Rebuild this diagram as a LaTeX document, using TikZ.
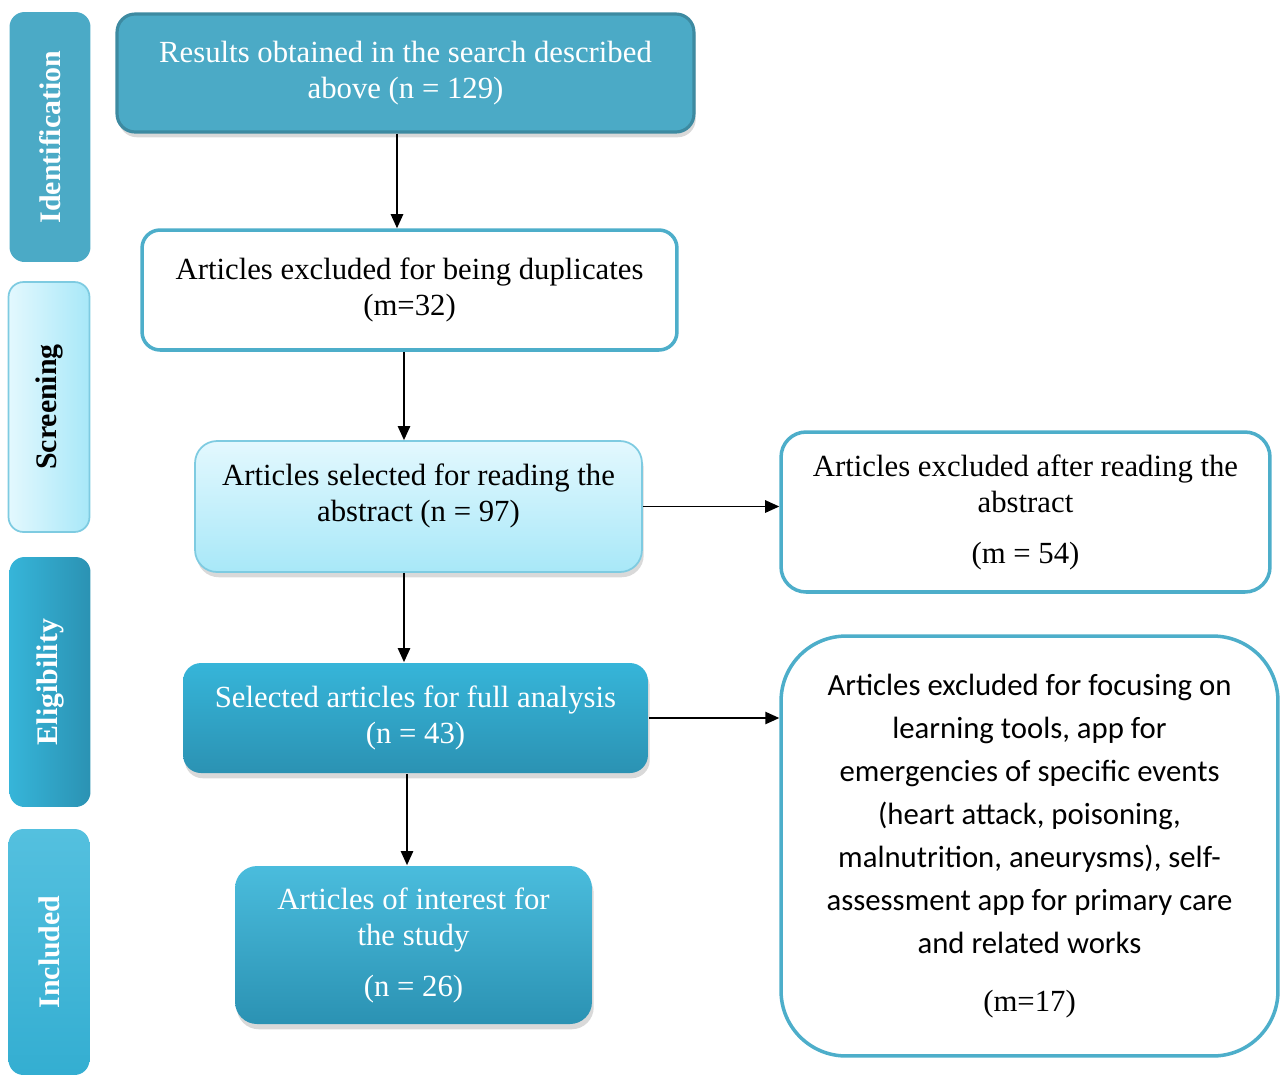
\documentclass[tikz,border=0pt]{standalone}
\usepackage{fontspec}
\setmainfont{Liberation Serif}
\newfontfamily\calfont{Carlito}
\usetikzlibrary{arrows.meta, shadows, positioning}
\definecolor{tealA}{HTML}{4BAAC6}
\definecolor{tealDark}{HTML}{3D8AA1}
\definecolor{tealLine}{HTML}{4DAECA}
\definecolor{cyanTop}{HTML}{36B5D9}
\definecolor{cyanBot}{HTML}{2B92B3}
\definecolor{paleTop}{HTML}{E3F8FE}
\definecolor{paleBot}{HTML}{A8E8F8}
\definecolor{paleLine}{HTML}{7ECBE1}

\begin{document}
\begin{tikzpicture}[x=0.02cm, y=-0.02cm, ->, >={Triangle[length=8pt,width=7pt]}, line width=1pt]
\tikzset{
  box/.style={rounded corners=0.36cm, align=center, inner sep=0pt, font=\fontsize{17.5}{20.5}\selectfont},
  shade/.style={drop shadow={opacity=0.3, shadow xshift=1pt, shadow yshift=-3pt}},
  darkbox/.style={box, shade, text=white, top color=cyanTop, bottom color=cyanBot, draw=none},
  whitebox/.style={box, fill=white, draw=tealLine, line width=2pt},
  stage/.style={rotate=90, rounded corners=0.3cm, minimum width=5cm, minimum height=1.62cm, inner sep=0pt, font=\fontsize{17}{20}\selectfont\bfseries}
}
\useasboundingbox (0,0) rectangle (1280,1076);

\node[stage, fill=tealA, text=white] (ident) at (50,137) {Identification};
\node[stage, draw=paleLine, line width=1pt, left color=paleTop, right color=paleBot, text=black] (screen) at (49,407) {Screening};
\node[stage, left color=cyanTop, right color=cyanBot, text=white] (elig) at (50,682) {Eligibility};
\node[stage, minimum width=4.92cm, top color=cyanTop!85!white, bottom color=cyanTop!80!cyanBot, text=white] (incl) at (49,952) {Included};

\node[box, shade, fill=tealA, draw=tealDark, line width=1.8pt, text=white, minimum width=11.54cm, minimum height=2.36cm] (b1) at (405.5,73) {Results obtained in the search described\\above (n = 129)};
\node[whitebox, minimum width=10.7cm, minimum height=2.4cm] (b2) at (409.5,290) {Articles excluded for being duplicates\\(m=32)};
\node[box, shade, draw=paleLine, line width=1pt, top color=paleTop, bottom color=paleBot, minimum width=8.94cm, minimum height=2.62cm, rounded corners=0.44cm] (b3) at (418.5,506.5) {Articles selected for reading the\\abstract (n = 97)\\[-0.18cm]};
\node[darkbox, minimum width=9.3cm, minimum height=2.2cm] (b4) at (415.5,718) {Selected articles for full analysis\\(n = 43)};
\node[darkbox, top color=cyanTop!90!white, minimum width=7.14cm, minimum height=3.16cm, rounded corners=0.44cm] (b5) at (413.5,945) {Articles of interest for\\the study\\[0.3cm](n = 26)};
\node[whitebox, minimum width=9.78cm, minimum height=3.2cm, rounded corners=0.5cm] (b6) at (1025.5,512) {Articles excluded after reading the\\abstract\\[0.3cm](m = 54)};
\node[whitebox, minimum width=9.94cm, minimum height=8.4cm, rounded corners=1.3cm, font=\calfont\fontsize{17.5}{24.5}\selectfont] (b7) at (1029.5,846) {Articles excluded for focusing on\\learning tools, app for\\emergencies of specific events\\(heart attack, poisoning,\\malnutrition, aneurysms), self-\\assessment app for primary care\\and related works\\[0.3cm]\rmfamily (m=17)};

\path
([xshift=-0.17cm]b1.south) edge ([xshift=-0.17cm]b1.south |- b2.north)
([xshift=-0.11cm]b2.south) edge ([xshift=-0.11cm]b2.south |- b3.north)
([xshift=-0.29cm]b3.south) edge ([xshift=-0.29cm]b3.south |- b4.north)
([xshift=-0.17cm]b4.south) edge ([xshift=-0.17cm]b4.south |- b5.north)
(b3.east) edge (b3.east -| b6.west)
(b4.east) edge (b4.east -| b7.west);
\end{tikzpicture}
\end{document}
